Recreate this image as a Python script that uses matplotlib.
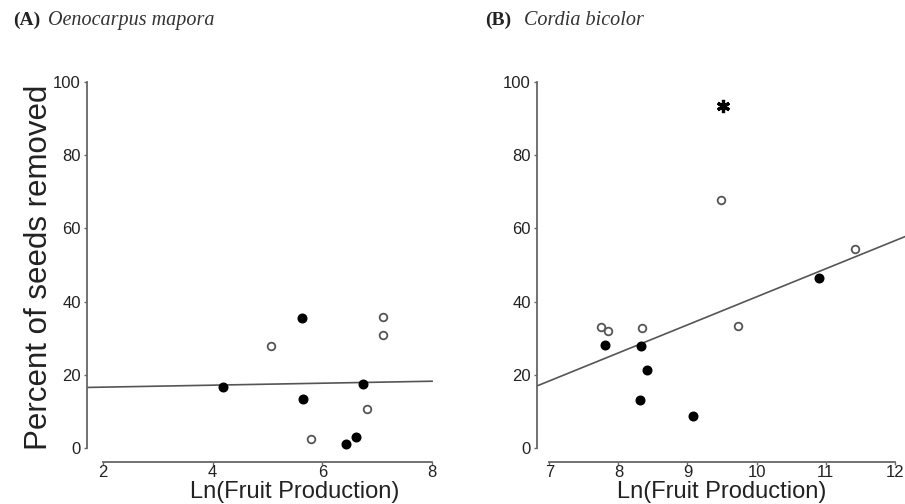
import numpy as np
import matplotlib
matplotlib.use("Agg")
import matplotlib.pyplot as plt

# Panel A: Oenocarpus mapora
a_filled_x = [4.18, 5.63, 5.64, 6.43, 6.62, 6.74]
a_filled_y = [16.6, 35.6, 13.4, 1.0, 3.1, 17.6]
a_open_x = [5.06, 5.80, 6.81, 7.10, 7.11]
a_open_y = [27.9, 2.6, 10.7, 35.8, 30.8]
a_fit = (16.1, 0.27)  # intercept, slope
a_xticks = [2, 4, 6, 8]

# Panel B: Cordia bicolor
b_filled_x = [7.81, 8.33, 8.42, 8.31, 9.08, 10.90]
b_filled_y = [28.1, 28.0, 21.4, 13.1, 8.8, 46.4]
b_open_x = [7.75, 7.85, 8.34, 9.73, 9.49, 11.42]
b_open_y = [33.2, 32.0, 32.8, 33.3, 67.7, 54.4]
b_fit = (-35.2, 7.65)
b_star = (9.51, 93.5)
b_xticks = [7, 8, 9, 10, 11, 12]

y_ticks = [0, 20, 40, 60, 80, 100]

plt.rcParams['font.family'] = ['Liberation Sans', 'DejaVu Sans']
AXIS_COLOR = "#666666"
TEXT_COLOR = "#222222"


def setup_axes(ax, xlim, xticks):
    """R style axes with detached spines"""
    ax.set_xlim(*xlim)
    ax.set_ylim(-3.8, 103.8)
    for side in ["top", "right"]:
        ax.spines[side].set_visible(False)
    ax.spines["left"].set_bounds(0, 100)
    ax.spines["bottom"].set_bounds(xticks[0], xticks[-1])
    for side in ["left", "bottom"]:
        ax.spines[side].set_color(AXIS_COLOR)
        ax.spines[side].set_linewidth(1.3)
    ax.set_xticks(xticks)
    ax.set_yticks(y_ticks)
    ax.tick_params(axis="both", length=2.5, width=1, color=AXIS_COLOR,
                   labelsize=12, labelcolor=TEXT_COLOR)
    ax.tick_params(axis="x", pad=0)
    ax.tick_params(axis="y", pad=2)
    ax.patch.set_visible(False)


def draw_points(ax, fx, fy, ox, oy):
    ax.plot(fx, fy, "o", color="black", ms=6.2, zorder=3)
    ax.plot(ox, oy, "o", mfc="white", mec="#555555", mew=1.3, ms=5.5, zorder=3)


fig = plt.figure(figsize=(9.05, 5.04), dpi=100)

# left panel
ax1 = fig.add_axes([87 / 905, 42 / 504, 361 / 905, 394 / 504])
setup_axes(ax1, (1.71, 8.29), a_xticks)
fit_x = np.array([1.71, a_xticks[-1]])
ax1.plot(fit_x, a_fit[0] + a_fit[1] * fit_x, color="#555555", lw=1.2, zorder=2)
draw_points(ax1, a_filled_x, a_filled_y, a_open_x, a_open_y)

# right panel
ax2 = fig.add_axes([537 / 905, 42 / 504, 370 / 905, 394 / 504])
setup_axes(ax2, (6.82, 12.18), b_xticks)
fit_x = np.array([6.82, 12.18])
ax2.plot(fit_x, b_fit[0] + b_fit[1] * fit_x, color="#555555", lw=1.2, zorder=2)
draw_points(ax2, b_filled_x, b_filled_y, b_open_x, b_open_y)
ax2.plot(*b_star, marker=(6, 2, 0), color="black", ms=9.5, mew=2.3, zorder=3)

# labels
fig.text(39 / 905, 1 - 267 / 504, "Percent of seeds removed", rotation=90,
         ha="center", va="center", fontsize=22.5, color=TEXT_COLOR)
fig.text(295 / 905, 1 - 492 / 504, "Ln(Fruit Production)", ha="center",
         va="center", fontsize=17, color=TEXT_COLOR)
fig.text(722 / 905, 1 - 492 / 504, "Ln(Fruit Production)", ha="center",
         va="center", fontsize=17, color=TEXT_COLOR)

# panel titles
serif = ['Liberation Serif', 'DejaVu Serif']
title_y = 1 - 25 / 504
fig.text(13 / 905, title_y, "(A)", family=serif, fontweight="bold",
         fontsize=14, va="baseline", color=TEXT_COLOR)
fig.text(48 / 905, title_y, "Oenocarpus mapora", family=serif,
         style="italic", fontsize=14.5, va="baseline", color="#333333")
fig.text(485 / 905, title_y, "(B)", family=serif, fontweight="bold",
         fontsize=14, va="baseline", color=TEXT_COLOR)
fig.text(524 / 905, title_y, "Cordia bicolor", family=serif,
         style="italic", fontsize=14.5, va="baseline", color="#333333")

fig.savefig("out.png", dpi=100)
